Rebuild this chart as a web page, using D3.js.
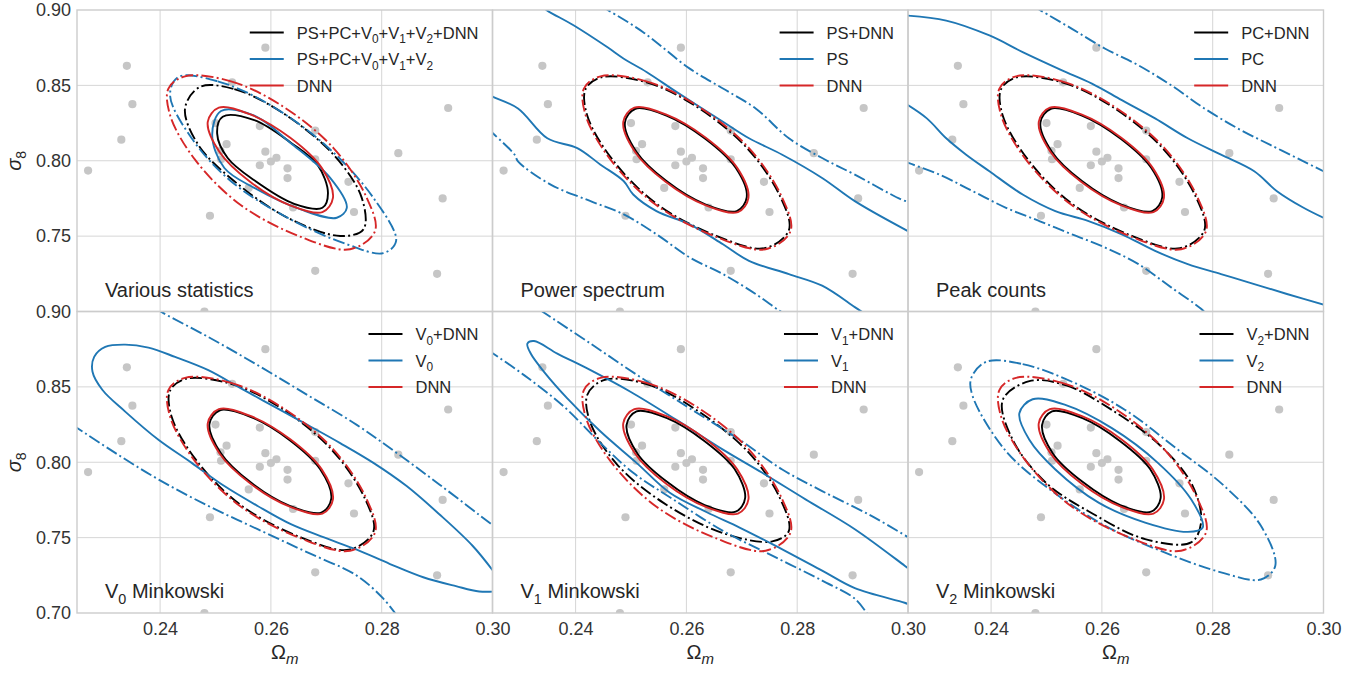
<!DOCTYPE html>
<html>
<head>
<meta charset="utf-8">
<script src="https://cdn.jsdelivr.net/npm/d3@7.9.0/dist/d3.min.js"></script>
<style>
  body { margin: 0; background: #fff; }
  svg { font-family: "Liberation Sans", Arial, sans-serif; }
  text { white-space: pre; }
</style>
</head>
<body>
<svg id="chart" width="1372" height="673"></svg>
<script>
// ====== Tick values ======
const omTicks = [0.24, 0.26, 0.28, 0.30];
const s8TicksTop = [0.75, 0.80, 0.85, 0.90];
const s8TicksBottom = [0.70, 0.75, 0.80, 0.85, 0.90];
const omGrid = [0.24, 0.26, 0.28];
const s8Grid = [0.75, 0.80, 0.85];

// ====== Simulation grid (Omega_m, sigma_8) ======
const simPoints = [
  [0.259, 0.875], [0.234, 0.863], [0.235, 0.8375], [0.292, 0.835], [0.253, 0.852],
  [0.233, 0.814], [0.227, 0.7935], [0.250, 0.825], [0.252, 0.811], [0.251, 0.801],
  [0.2509, 0.8066], [0.258, 0.823], [0.259, 0.806], [0.261, 0.802], [0.260, 0.7995],
  [0.258, 0.797], [0.263, 0.795], [0.263, 0.7885], [0.268, 0.820], [0.268, 0.801],
  [0.283, 0.805], [0.256, 0.782], [0.274, 0.786], [0.291, 0.775], [0.275, 0.766],
  [0.264, 0.769], [0.249, 0.7635], [0.268, 0.727], [0.290, 0.725], [0.248, 0.700]
];

// ====== Contours (68% = inner, 95% = outer) ======
const dnnInner = [[0.2506,0.8352],[0.2563,0.8307],[0.2635,0.8152],[0.2692,0.7951],[0.2712,0.7753],[0.2693,0.7659],[0.2635,0.7704],[0.2563,0.7859],[0.2507,0.8060],[0.2486,0.8258]];
const dnnOuter = [[0.2445,0.8560],[0.2528,0.8527],[0.2618,0.8369],[0.2713,0.8084],[0.2773,0.7754],[0.2788,0.7534],[0.2743,0.7413],[0.2654,0.7495],[0.2546,0.7705],[0.2463,0.8007],[0.2418,0.8303],[0.2415,0.8479]];

const allInner = [[0.2513,0.8292],[0.2570,0.8270],[0.2636,0.8120],[0.2684,0.7974],[0.2703,0.7785],[0.2693,0.7688],[0.2642,0.7714],[0.2570,0.7870],[0.2522,0.8018],[0.2503,0.8180]];
const allOuter = [[0.2472,0.8490],[0.2534,0.8475],[0.2618,0.8325],[0.2713,0.8040],[0.2764,0.7754],[0.2767,0.7545],[0.2725,0.7501],[0.2630,0.7622],[0.2534,0.7864],[0.2469,0.8105],[0.2445,0.8347]];
const statsInner = [[0.2510,0.8330],[0.2570,0.8299],[0.2636,0.8116],[0.2707,0.7886],[0.2737,0.7688],[0.2719,0.7622],[0.2654,0.7677],[0.2570,0.7820],[0.2516,0.7952],[0.2494,0.8171]];
const statsOuter = [[0.2433,0.8556],[0.2504,0.8527],[0.2594,0.8380],[0.2701,0.8095],[0.2785,0.7754],[0.2826,0.7468],[0.2803,0.7387],[0.2737,0.7446],[0.2630,0.7622],[0.2528,0.7864],[0.2457,0.8149],[0.2418,0.8435]];

const jointInner = [[0.2508,0.8345],[0.2564,0.8300],[0.2634,0.8146],[0.2689,0.7953],[0.2709,0.7758],[0.2691,0.7666],[0.2634,0.7711],[0.2564,0.7865],[0.2510,0.8058],[0.2489,0.8253]];
const jointOuter = [[0.2446,0.8553],[0.2528,0.8520],[0.2617,0.8362],[0.2711,0.8078],[0.2770,0.7757],[0.2785,0.7540],[0.2741,0.7420],[0.2654,0.7502],[0.2547,0.7712],[0.2466,0.8010],[0.2421,0.8300],[0.2418,0.8475]];

const psInnerUp = [[0.2337,0.9029],[0.2349,0.8996],[0.2397,0.8897],[0.2457,0.8754],[0.2487,0.8677],[0.2528,0.8589],[0.2582,0.8457],[0.2666,0.8259],[0.2713,0.8149],[0.2773,0.8040],[0.2845,0.7886],[0.2904,0.7732],[0.2994,0.7545],[0.3010,0.7515]];
const psInnerLo = [[0.2242,0.8440],[0.2251,0.8424],[0.2296,0.8347],[0.2349,0.8149],[0.2403,0.8084],[0.2445,0.7974],[0.2487,0.7864],[0.2504,0.7776],[0.2546,0.7666],[0.2606,0.7578],[0.2666,0.7446],[0.2713,0.7336],[0.2785,0.7248],[0.2845,0.7171],[0.2904,0.7029],[0.2922,0.6985]];
const psOuterUp = [[0.2445,0.9029],[0.2460,0.8996],[0.2522,0.8853],[0.2606,0.8611],[0.2666,0.8479],[0.2725,0.8347],[0.2785,0.8149],[0.2845,0.8018],[0.2904,0.7908],[0.2988,0.7743],[0.3006,0.7721]];
const psOuterLo = [[0.2242,0.8211],[0.2254,0.8171],[0.2290,0.8040],[0.2296,0.7996],[0.2355,0.7842],[0.2427,0.7732],[0.2487,0.7644],[0.2546,0.7512],[0.2606,0.7358],[0.2666,0.7248],[0.2725,0.7116],[0.2767,0.7007],[0.2779,0.6980]];

const pcInnerUp = [[0.2240,0.8965],[0.2319,0.8930],[0.2397,0.8831],[0.2457,0.8721],[0.2528,0.8600],[0.2582,0.8512],[0.2636,0.8402],[0.2696,0.8281],[0.2755,0.8149],[0.2815,0.8040],[0.2875,0.7930],[0.2916,0.7798],[0.2964,0.7688],[0.3006,0.7611]];
const pcInnerLo = [[0.2242,0.8387],[0.2284,0.8281],[0.2319,0.8149],[0.2355,0.8040],[0.2397,0.7930],[0.2457,0.7776],[0.2516,0.7666],[0.2576,0.7600],[0.2636,0.7512],[0.2696,0.7402],[0.2755,0.7314],[0.2815,0.7248],[0.2875,0.7182],[0.2934,0.7116],[0.3006,0.7040]];
const pcOuterUp = [[0.2475,0.9029],[0.2490,0.8996],[0.2546,0.8875],[0.2606,0.8743],[0.2666,0.8633],[0.2725,0.8501],[0.2785,0.8347],[0.2845,0.8215],[0.2904,0.8105],[0.2964,0.7996],[0.3006,0.7919]];
const pcOuterLo = [[0.2242,0.7996],[0.2307,0.7908],[0.2367,0.7798],[0.2427,0.7688],[0.2487,0.7600],[0.2546,0.7512],[0.2606,0.7424],[0.2666,0.7314],[0.2725,0.7160],[0.2779,0.7018],[0.2791,0.6974]];

const v0Inner = [[0.3006,0.7143],[0.2976,0.7143],[0.2934,0.7178],[0.2875,0.7237],[0.2815,0.7325],[0.2755,0.7420],[0.2696,0.7501],[0.2636,0.7589],[0.2576,0.7710],[0.2516,0.7842],[0.2457,0.7996],[0.2397,0.8149],[0.2337,0.8336],[0.2296,0.8479],[0.2278,0.8600],[0.2281,0.8699],[0.2301,0.8765],[0.2337,0.8780],[0.2379,0.8760],[0.2427,0.8699],[0.2487,0.8611],[0.2546,0.8490],[0.2606,0.8369],[0.2666,0.8248],[0.2725,0.8127],[0.2785,0.7996],[0.2845,0.7842],[0.2904,0.7655],[0.2964,0.7446],[0.3003,0.7270]];
const v0OuterUp = [[0.2391,0.9024],[0.2406,0.8989],[0.2487,0.8831],[0.2576,0.8644],[0.2666,0.8446],[0.2755,0.8248],[0.2827,0.8062],[0.2904,0.7853],[0.2994,0.7600],[0.3006,0.7567]];
const v0OuterLo = [[0.2242,0.8248],[0.2251,0.8226],[0.2319,0.8062],[0.2397,0.7886],[0.2487,0.7710],[0.2576,0.7556],[0.2666,0.7402],[0.2755,0.7248],[0.2803,0.7095],[0.2827,0.6985]];

const v1Inner = [[0.3006,0.7051],[0.2994,0.7068],[0.2904,0.7165],[0.2845,0.7281],[0.2755,0.7457],[0.2696,0.7567],[0.2636,0.7670],[0.2570,0.7798],[0.2510,0.7996],[0.2445,0.8204],[0.2385,0.8424],[0.2343,0.8600],[0.2319,0.8721],[0.2313,0.8787],[0.2325,0.8804],[0.2367,0.8721],[0.2427,0.8611],[0.2499,0.8468],[0.2582,0.8281],[0.2666,0.8084],[0.2737,0.7930],[0.2815,0.7754],[0.2904,0.7556],[0.2994,0.7314],[0.3006,0.7281]];
const v1OuterUp = [[0.2337,0.9007],[0.2346,0.8985],[0.2427,0.8787],[0.2516,0.8567],[0.2606,0.8358],[0.2696,0.8149],[0.2773,0.7952],[0.2845,0.7809],[0.2934,0.7644],[0.3006,0.7490]];
const v1OuterLo = [[0.2242,0.8743],[0.2251,0.8721],[0.2307,0.8578],[0.2379,0.8369],[0.2445,0.8127],[0.2504,0.7930],[0.2576,0.7754],[0.2666,0.7545],[0.2755,0.7380],[0.2845,0.7215],[0.2904,0.7095],[0.2928,0.6985]];

const v2Inner = [[0.2475,0.8418],[0.2534,0.8380],[0.2618,0.8226],[0.2701,0.7996],[0.2761,0.7754],[0.2782,0.7567],[0.2755,0.7538],[0.2678,0.7600],[0.2594,0.7732],[0.2516,0.7952],[0.2469,0.8149],[0.2451,0.8325]];
const v2Outer = [[0.2391,0.8666],[0.2457,0.8651],[0.2546,0.8534],[0.2642,0.8347],[0.2737,0.8084],[0.2821,0.7842],[0.2887,0.7578],[0.2913,0.7314],[0.2887,0.7222],[0.2815,0.7270],[0.2713,0.7402],[0.2606,0.7578],[0.2510,0.7809],[0.2427,0.8073],[0.2367,0.8435],[0.2364,0.8556]];

const mkJointInner = [[0.2510,0.8338],[0.2565,0.8293],[0.2633,0.8140],[0.2687,0.7955],[0.2706,0.7762],[0.2689,0.7672],[0.2633,0.7716],[0.2565,0.7870],[0.2512,0.8055],[0.2492,0.8248]];
const v1JointOuter = [[0.2451,0.8545],[0.2528,0.8519],[0.2618,0.8347],[0.2713,0.8062],[0.2767,0.7776],[0.2785,0.7545],[0.2755,0.7475],[0.2666,0.7530],[0.2558,0.7732],[0.2475,0.7985],[0.2427,0.8259],[0.2421,0.8446]];
const v2JointOuter = [[0.2469,0.8538],[0.2534,0.8512],[0.2618,0.8347],[0.2707,0.8105],[0.2764,0.7842],[0.2779,0.7600],[0.2761,0.7468],[0.2678,0.7490],[0.2582,0.7662],[0.2499,0.7864],[0.2439,0.8149],[0.2421,0.8413]];

// ====== Panels ======
const BLACK = '#000000', BLUE = '#1f77b4', RED = '#d62728';
const DASHDOT = '12 3.2 2 3.2';

// each curve: [points, colour, dash-dot?, closed?]
const panels = [
  { title: 'Various statistics', labels: ['PS+PC+V_0+V_1+V_2+DNN', 'PS+PC+V_0+V_1+V_2', 'DNN'],
    curves: [[allInner, BLACK, 0, 1], [allOuter, BLACK, 1, 1], [statsInner, BLUE, 0, 1], [statsOuter, BLUE, 1, 1], [dnnInner, RED, 0, 1], [dnnOuter, RED, 1, 1]] },
  { title: 'Power spectrum', labels: ['PS+DNN', 'PS', 'DNN'],
    curves: [[jointInner, BLACK, 0, 1], [jointOuter, BLACK, 1, 1], [psInnerUp, BLUE, 0, 0], [psInnerLo, BLUE, 0, 0], [psOuterUp, BLUE, 1, 0], [psOuterLo, BLUE, 1, 0], [dnnInner, RED, 0, 1], [dnnOuter, RED, 1, 1]] },
  { title: 'Peak counts', labels: ['PC+DNN', 'PC', 'DNN'],
    curves: [[jointInner, BLACK, 0, 1], [jointOuter, BLACK, 1, 1], [pcInnerUp, BLUE, 0, 0], [pcInnerLo, BLUE, 0, 0], [pcOuterUp, BLUE, 1, 0], [pcOuterLo, BLUE, 1, 0], [dnnInner, RED, 0, 1], [dnnOuter, RED, 1, 1]] },
  { title: 'V_0 Minkowski', labels: ['V_0+DNN', 'V_0', 'DNN'],
    curves: [[jointInner, BLACK, 0, 1], [jointOuter, BLACK, 1, 1], [v0Inner, BLUE, 0, 0], [v0OuterUp, BLUE, 1, 0], [v0OuterLo, BLUE, 1, 0], [dnnInner, RED, 0, 1], [dnnOuter, RED, 1, 1]] },
  { title: 'V_1 Minkowski', labels: ['V_1+DNN', 'V_1', 'DNN'],
    curves: [[mkJointInner, BLACK, 0, 1], [v1JointOuter, BLACK, 1, 1], [v1Inner, BLUE, 0, 0], [v1OuterUp, BLUE, 1, 0], [v1OuterLo, BLUE, 1, 0], [dnnInner, RED, 0, 1], [dnnOuter, RED, 1, 1]] },
  { title: 'V_2 Minkowski', labels: ['V_2+DNN', 'V_2', 'DNN'],
    curves: [[mkJointInner, BLACK, 0, 1], [v2JointOuter, BLACK, 1, 1], [v2Inner, BLUE, 0, 1], [v2Outer, BLUE, 1, 1], [dnnInner, RED, 0, 1], [dnnOuter, RED, 1, 1]] }
];

// ====== Layout ======
const marginLeft = 77, marginTop = 10, pw = 415.5, ph = 301.5;
const svg = d3.select('#chart');
const x = d3.scaleLinear().domain([0.225, 0.30]).range([0, pw]);
const y = d3.scaleLinear().domain([0.70, 0.90]).range([ph, 0]);

svg.append('defs').append('clipPath').attr('id', 'clip')
  .append('rect').attr('width', pw).attr('height', ph);

const closedLine = d3.line().x(d => x(d[0])).y(d => y(d[1])).curve(d3.curveCatmullRomClosed.alpha(0.5));
const openLine = d3.line().x(d => x(d[0])).y(d => y(d[1])).curve(d3.curveCatmullRom.alpha(0.5));

// text with "_0" style subscripts
function richText(sel, str, size) {
  const parts = str.split(/(_\w)/).filter(s => s.length);
  let shifted = false;
  parts.forEach(p => {
    if (p[0] === '_') {
      sel.append('tspan').attr('dy', size * 0.28).attr('font-size', size * 0.72).text(p.slice(1));
      shifted = true;
    } else {
      sel.append('tspan').attr('dy', shifted ? -size * 0.28 : null).text(p);
      shifted = false;
    }
  });
}

panels.forEach((p, i) => {
  const col = i % 3, row = Math.floor(i / 3);
  const g = svg.append('g').attr('transform', `translate(${marginLeft + col * pw},${marginTop + row * ph})`);

  // grid
  g.selectAll('.gx').data(omGrid).join('line')
    .attr('x1', d => x(d)).attr('x2', d => x(d)).attr('y1', 0).attr('y2', ph)
    .attr('stroke', '#d6d6d6').attr('stroke-width', 1);
  g.selectAll('.gy').data(s8Grid).join('line')
    .attr('y1', d => y(d)).attr('y2', d => y(d)).attr('x1', 0).attr('x2', pw)
    .attr('stroke', '#d6d6d6').attr('stroke-width', 1);

  const plot = g.append('g').attr('clip-path', 'url(#clip)');

  plot.selectAll('circle').data(simPoints).join('circle')
    .attr('cx', d => x(d[0])).attr('cy', d => y(d[1])).attr('r', 4.1)
    .attr('fill', '#c6c6c6');

  p.curves.forEach(([data, color, dashed, closed]) => {
    plot.append('path')
      .attr('d', closed ? closedLine(data) : openLine(data))
      .attr('fill', 'none')
      .attr('stroke', color)
      .attr('stroke-width', 1.9)
      .attr('stroke-dasharray', dashed ? DASHDOT : null);
  });

  // frame
  g.append('rect').attr('width', pw).attr('height', ph)
    .attr('fill', 'none').attr('stroke', '#cccccc').attr('stroke-width', 1.4);

  // legend
  const legendColors = [BLACK, BLUE, RED];
  const rows = [22.5, 49, 75.5];
  const lg = g.append('g');
  const texts = p.labels.map((lab, k) => {
    const t = lg.append('text').attr('y', rows[k] + 6).attr('font-size', 16.5).attr('fill', '#262626');
    richText(t, lab, 16.5);
    return t;
  });
  const maxW = d3.max(texts, t => t.node().getComputedTextLength());
  const tx = pw - 14 - maxW;
  texts.forEach(t => t.attr('x', tx));
  legendColors.forEach((c, k) => {
    lg.append('line').attr('x1', tx - 47).attr('x2', tx - 13)
      .attr('y1', rows[k]).attr('y2', rows[k])
      .attr('stroke', c).attr('stroke-width', 2.2);
  });

  // panel title
  const tt = g.append('text').attr('x', 28).attr('y', ph - 15)
    .attr('font-size', 20).attr('fill', '#262626');
  richText(tt, p.title, 20);

  // axes
  if (col === 0) {
    const ay = g.append('g').call(d3.axisLeft(y)
      .tickValues(row === 0 ? s8TicksTop : s8TicksBottom)
      .tickSize(0).tickPadding(6).tickFormat(d3.format('.2f')));
    ay.select('.domain').remove();
    ay.attr('font-size', 18).attr('font-family', null);
    ay.selectAll('text').attr('fill', '#333');

    const yl = g.append('text')
      .attr('transform', `translate(-56,${ph / 2}) rotate(-90)`)
      .attr('text-anchor', 'middle').attr('font-size', 20).attr('fill', '#262626');
    yl.append('tspan').attr('font-style', 'italic').text('σ');
    yl.append('tspan').attr('dy', 5).attr('font-size', 14).text('8');
  }
  if (row === 1) {
    const ax = g.append('g').attr('transform', `translate(0,${ph})`).call(d3.axisBottom(x)
      .tickValues(omTicks).tickSize(0).tickPadding(9).tickFormat(d3.format('.2f')));
    ax.select('.domain').remove();
    ax.attr('font-size', 18).attr('font-family', null);
    ax.selectAll('text').attr('fill', '#333');

    const xl = g.append('text')
      .attr('x', pw / 2).attr('y', ph + 46)
      .attr('text-anchor', 'middle').attr('font-size', 20).attr('fill', '#262626');
    xl.append('tspan').text('Ω');
    xl.append('tspan').attr('dy', 5).attr('font-size', 15).attr('font-style', 'italic').text('m');
  }
});
</script>
</body>
</html>
